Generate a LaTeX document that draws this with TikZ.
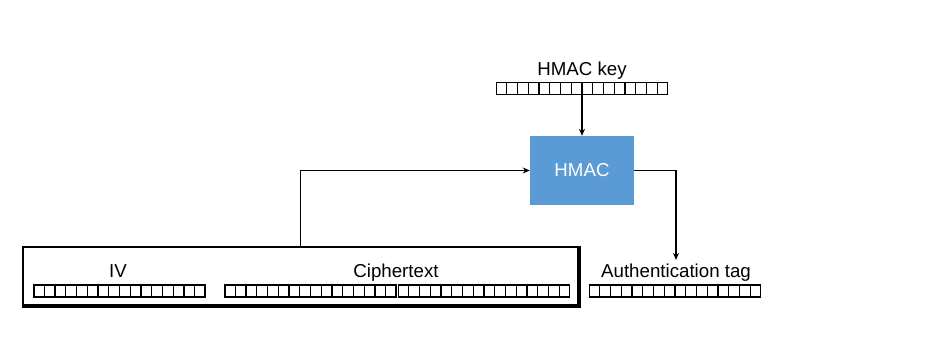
\documentclass[tikz,border=0pt]{standalone}
\usepackage{fontspec}
\setmainfont{Liberation Sans}
\usetikzlibrary{positioning}
\usetikzlibrary{calc}
\usetikzlibrary{arrows.meta}

\definecolor{hmacblue}{HTML}{5B9BD5}

% 16 byte cells inside a strip node
\newcommand{\bytecells}[1]{%
  \foreach \i in {1,...,15}
    \draw[line width=1.1pt] ($(#1.south west)!\i/16!(#1.south east)$) -- ($(#1.north west)!\i/16!(#1.north east)$);
}

\begin{document}
\begin{tikzpicture}[x=1pt,y=-1pt,
    >={Stealth[length=7pt,width=6pt]},
    every node/.style={font=\fontsize{18.7}{22}\selectfont},
    bytes/.style={draw, line width=1.1pt, minimum width=171pt, minimum height=12pt, inner sep=0pt},
    flow/.style={->, line width=1.8pt}]
  \useasboundingbox (0,0) rectangle (942,337);

  % key and MAC box
  \node[anchor=base] (keylabel) at (582,76) {HMAC key};
  \node[bytes] (keybytes) at (582,88.5) {};
  \bytecells{keybytes}
  \node[fill=hmacblue, text=white, minimum width=104pt, minimum height=69pt] (hmac) at (582,170.5) {HMAC};

  % IV || ciphertext
  \node[draw, line width=1.2pt, minimum width=555pt, minimum height=58pt, inner sep=0pt] (msg) at (300.5,276) {};
  \draw[line width=2.2pt] ([xshift=0.8pt]msg.north east) -- ([xshift=0.8pt,yshift=-0.8pt]msg.south east) -- ([yshift=-0.8pt]msg.south west);
  \node[anchor=base] (ivlabel) at (118,277) {IV};
  \node[bytes] (ivbytes) at (119.5,291) {};
  \bytecells{ivbytes}
  \node[anchor=base] (ctlabel) at (396,277) {Ciphertext};
  \node[bytes] (ctbytesa) at (310.5,291) {};
  \bytecells{ctbytesa}
  \node[bytes] (ctbytesb) at (484,291) {};
  \bytecells{ctbytesb}

  % output tag
  \node[anchor=base] (taglabel) at (676,277) {Authentication tag};
  \node[bytes] (tagbytes) at (675,291) {};
  \bytecells{tagbytes}

  \draw[flow] (keybytes.south) -- (hmac.north);
  \draw[flow] (msg.north) |- (hmac.west);
  \draw[flow] (hmac.east) -| (taglabel.north);
\end{tikzpicture}
\end{document}
